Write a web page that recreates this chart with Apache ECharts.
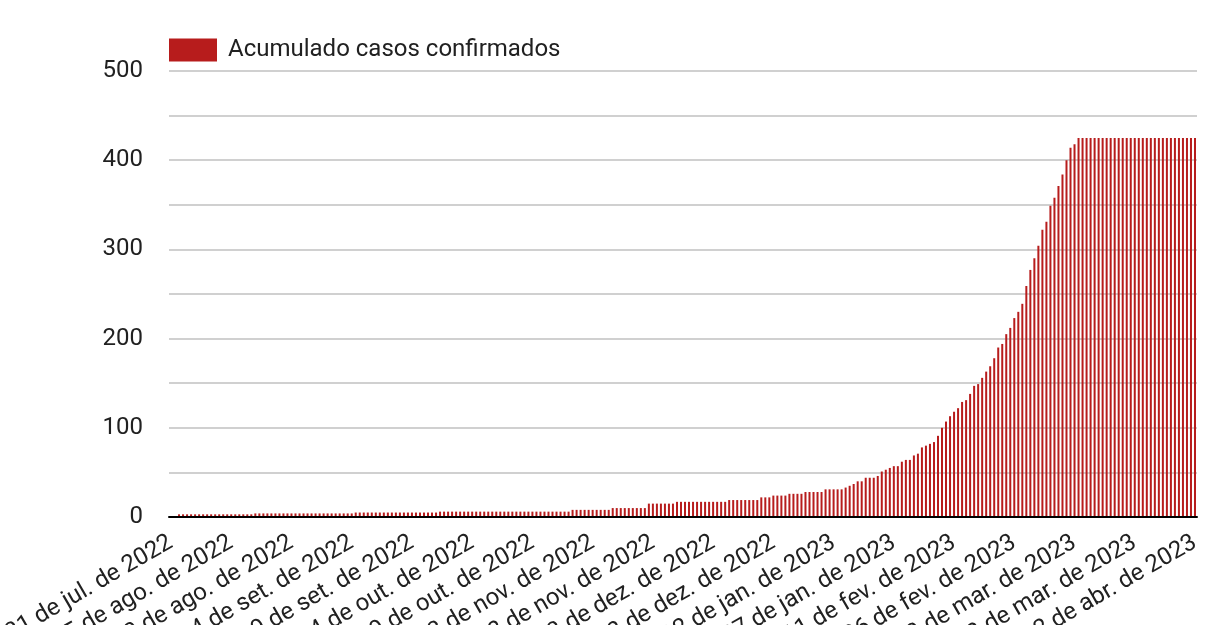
<!DOCTYPE html>
<html><head><meta charset="utf-8">
<script src="https://cdn.jsdelivr.net/npm/echarts@6/dist/echarts.min.js"></script>
<style>html,body{margin:0;padding:0;background:#fff}#c{width:1213px;height:625px}</style>
</head><body><div id="c"></div>
<script>
// Daily categories: 31 jul 2022 .. 12 abr 2023 (256 days)
const startDate = [2022, 6, 31];
const dayCount = 256;
const monthNames = ['jan.','fev.','mar.','abr.','mai.','jun.','jul.','ago.','set.','out.','nov.','dez.'];
const seriesName = 'Acumulado casos confirmados';
const yTickValues = [0, 100, 200, 300, 400, 500];
const labelEvery = 15;

const casos = [
  1,1,
  3,3,3,3,3,3,3,3,3,3,3,3,3,3,3,3,3,3,3,
  4,4,4,4,4,4,4,4,4,4,4,4,4,4,4,4,4,4,4,4,4,4,4,4,4,
  5,5,5,5,5,5,5,5,5,5,5,5,5,5,5,5,5,5,5,5,5,
  6,6,6,6,6,6,6,6,6,6,6,6,6,6,6,6,6,6,6,6,6,6,6,6,6,6,6,6,6,6,6,6,6,
  8,8,8,8,8,8,8,8,8,8,
  10,10,10,10,10,10,10,10,10,
  15,15,15,15,15,15,15,
  17,17,17,17,17,17,17,17,17,17,17,17,17,
  19,19,19,19,19,19,19,19,
  22,22,22,
  24,24,24,24,
  26,26,26,26,
  28,28,28,28,28,
  31,31,31,31,31,
  33,35,37,40,40,44,44,44,46,51,53,55,57,57,62,64,64,69,71,78,
  80,82,84,91,100,107,113,118,122,129,131,138,147,149,156,163,169,178,190,194,
  205,212,223,230,239,259,277,290,304,322,331,349,358,371,384,400,414,418,
  425,425,425,425,425,425,425,425,425,425,425,425,425,425,425,
  425,425,425,425,425,425,425,425,425,425,425,425,425,425,425
];

const categories = [];
for (let i = 0; i < dayCount; i++) {
  const d = new Date(Date.UTC(startDate[0], startDate[1], startDate[2] + i));
  categories.push(d.getUTCDate() + ' de ' + monthNames[d.getUTCMonth()] + ' de ' + d.getUTCFullYear());
}

const chart = echarts.init(document.getElementById('c'), null, {renderer: 'canvas', width: 1213, height: 625});
chart.setOption({
  animation: false,
  backgroundColor: '#ffffff',
  textStyle: {fontFamily: 'Roboto'},
  legend: {
    data: [seriesName],
    left: 169, top: 38,
    padding: 0,
    itemWidth: 48, itemHeight: 23,
    icon: 'rect',
    textStyle: {fontSize: 24, color: '#212121', fontFamily: 'Roboto', padding: [0, 0, 0, 6]}
  },
  grid: {left: 169, right: 16, top: 71, bottom: 108, containLabel: false, outerBoundsMode: 'none'},
  xAxis: {
    type: 'category',
    data: categories,
    boundaryGap: true,
    z: 10,
    axisTick: {show: false},
    axisLine: {lineStyle: {color: '#000000', width: 2}},
    axisLabel: {
      interval: labelEvery - 1,
      rotate: 30,
      fontSize: 24,
      color: '#212121',
      fontFamily: 'Roboto',
      margin: 24
    },
    splitLine: {show: false}
  },
  yAxis: {
    type: 'value',
    min: 0, max: 500, interval: 50,
    axisLine: {show: false},
    axisTick: {show: false},
    axisLabel: {
      fontSize: 24, color: '#212121', fontFamily: 'Roboto', margin: 26,
      formatter: function (v) { return yTickValues.indexOf(v) >= 0 ? String(v) : ''; }
    },
    splitLine: {lineStyle: {color: '#d0d0d0', width: 2}}
  },
  series: [{
    name: seriesName,
    type: 'bar',
    data: casos,
    barWidth: '50%',
    itemStyle: {color: '#b71c1c'}
  }]
});
</script>
</body></html>
